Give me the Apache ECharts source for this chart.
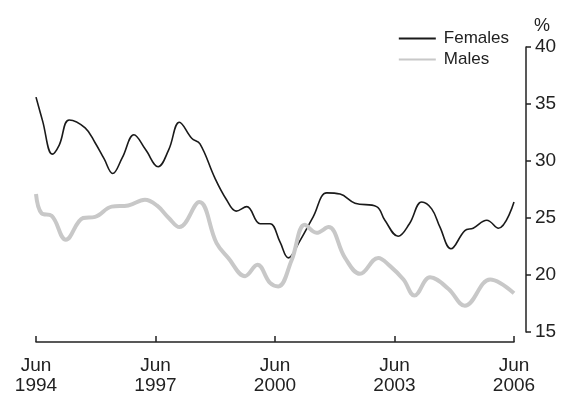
<!DOCTYPE html>
<html>
<head>
<meta charset="utf-8">
<script src="https://cdn.jsdelivr.net/npm/echarts@6/dist/echarts.min.js"></script>
<style>
html, body { margin: 0; padding: 0; background: #fff; }
#chart { width: 565px; height: 396px; }
</style>
</head>
<body>
<div id="chart"></div>
<script>
// months counted from Jun 1994
var femaleMonths = [0, 2, 4.9, 7, 10, 14.8, 17.8, 20.5, 23.1, 26, 29.5, 33, 36.8, 40, 43.2, 46.9, 49.4, 53.9, 57.4, 60.3, 63.5, 67.5, 70.5, 73.5, 76, 79.5, 83.5, 87.6, 91.6, 96.1, 102.6, 105.1, 109.1, 112.5, 116.2, 119.2, 121.7, 125, 129.2, 131.7, 135.8, 139.3, 144];
var femaleValues = [35.6, 33.5, 30.6, 31.4, 33.6, 32.9, 31.6, 30.2, 28.9, 30.3, 32.3, 31.0, 29.5, 31.0, 33.4, 32.0, 31.5, 28.5, 26.6, 25.6, 26.0, 24.5, 24.5, 22.9, 21.5, 23.0, 25.1, 27.2, 27.1, 26.3, 26.0, 24.8, 23.4, 24.5, 26.4, 25.8, 24.2, 22.3, 23.9, 24.1, 24.8, 24.1, 26.4];
var maleMonths = [0, 1.7, 4.7, 9, 14.2, 17.8, 22.8, 27.8, 32.8, 36.4, 40, 43.2, 49.2, 54.4, 57.9, 63, 66.7, 70.5, 73, 77, 81, 84.5, 88.1, 93.1, 97.6, 103.1, 106.6, 110.7, 114, 118.7, 124.2, 129.2, 136.8, 139.8, 144];
var maleValues = [27.1, 25.4, 25.2, 23.1, 25.0, 25.1, 26.0, 26.1, 26.6, 26.1, 25.0, 24.2, 26.4, 22.8, 21.5, 19.9, 20.9, 19.3, 19.0, 21.3, 24.4, 23.7, 24.2, 21.5, 20.1, 21.5, 20.8, 19.6, 18.2, 19.8, 18.8, 17.3, 19.6, 19.3, 18.4];
var tickLabels = ['Jun\n1994', 'Jun\n1997', 'Jun\n2000', 'Jun\n2003', 'Jun\n2006'];

var chart = echarts.init(document.getElementById('chart'));

function pairs(xs, ys) {
    var out = [];
    for (var i = 0; i < xs.length; i++) {
        out.push([xs[i], ys[i]]);
    }
    return out;
}

var font = 'Liberation Sans';

var option = {
    animation: false,
    backgroundColor: '#fff',
    textStyle: { fontFamily: font, color: '#222' },
    grid: { left: 36, right: 51, top: 47, bottom: 64 },
    legend: {
        orient: 'vertical',
        right: 51,
        top: 25,
        itemWidth: 37,
        itemHeight: 10,
        itemGap: 4,
        itemStyle: { opacity: 0 },
        textStyle: { fontFamily: font, fontSize: 17, color: '#222', padding: [0, 0, 0, 3] },
        data: ['Females', 'Males']
    },
    xAxis: {
        type: 'value',
        min: 0,
        max: 144,
        interval: 36,
        offset: 10,
        splitLine: { show: false },
        axisLine: { onZero: false, lineStyle: { color: '#222', width: 1.5 } },
        axisTick: { inside: true, length: 6, lineStyle: { color: '#222', width: 1.5 } },
        axisLabel: {
            fontFamily: font,
            fontSize: 19,
            color: '#222',
            lineHeight: 20,
            margin: 14,
            formatter: function (v) {
                return tickLabels[Math.round(v / 36)];
            }
        }
    },
    yAxis: {
        type: 'value',
        position: 'right',
        min: 15,
        max: 40,
        interval: 5,
        offset: 12,
        name: '%',
        nameGap: 12,
        nameTextStyle: { fontFamily: font, fontSize: 18, color: '#222', align: 'left', padding: [0, 0, 0, 8] },
        splitLine: { show: false },
        axisLine: { show: true, onZero: false, lineStyle: { color: '#222', width: 1.5 } },
        axisTick: { show: true, length: 5, lineStyle: { color: '#222', width: 1.5 } },
        axisLabel: { fontFamily: font, fontSize: 19, color: '#222', margin: 9 }
    },
    series: [
        {
            name: 'Females',
            type: 'line',
            symbol: 'none',
            smooth: 0.4,
            color: '#1a1a1a',
            lineStyle: { color: '#1a1a1a', width: 1.6 },
            data: pairs(femaleMonths, femaleValues)
        },
        {
            name: 'Males',
            type: 'line',
            symbol: 'none',
            smooth: 0.4,
            color: '#c8c8c8',
            lineStyle: { color: '#c8c8c8', width: 4 },
            data: pairs(maleMonths, maleValues)
        }
    ]
};

chart.setOption(option);
</script>
</body>
</html>
